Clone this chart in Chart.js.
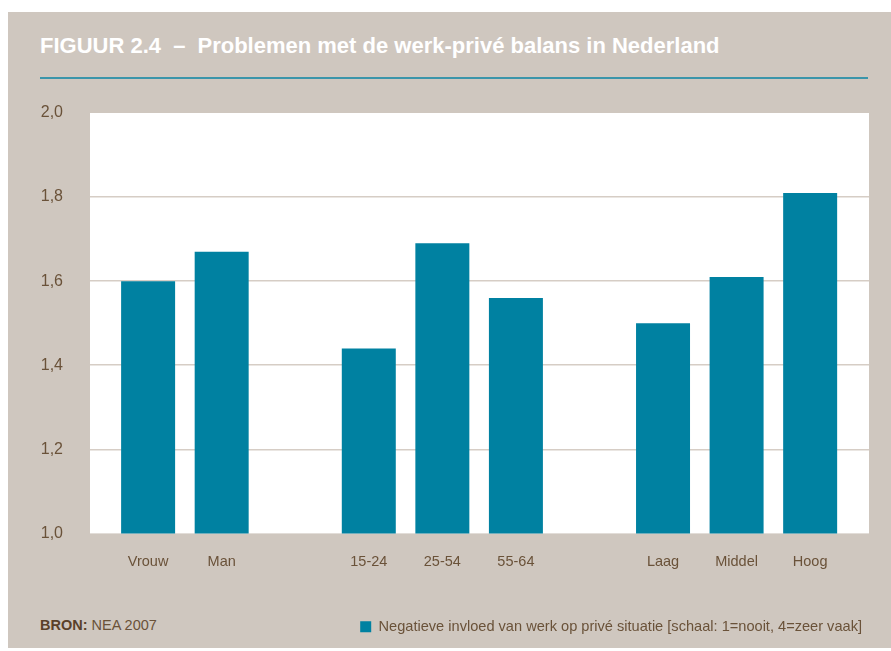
<!DOCTYPE html>
<html>
<head>
<meta charset="utf-8">
<script src="https://cdn.jsdelivr.net/npm/chart.js@4.4.1/dist/chart.umd.min.js"></script>
<style>
  body { margin: 0; background: #fff; font-family: "Liberation Sans", Arial, sans-serif; }
  #frame { position: absolute; left: 8px; top: 12px; width: 883px; height: 636px; background: #cfc7bf; }
  #title { position: absolute; left: 40px; top: 33px; color: #fff; font-weight: bold; font-size: 22px; white-space: pre; }
  #title .dash { margin: 0 6px 0 6px; }
  #rule { position: absolute; left: 40px; top: 77px; width: 828px; height: 2px; background: #3b95aa; }
  #source { position: absolute; left: 40px; top: 617px; color: #6a5239; font-size: 14.5px; }
  #source b { color: #5a4129; }
  #wrap { position: absolute; left: 0; top: 0; width: 891px; height: 651px; }
</style>
</head>
<body>
<div id="frame"></div>
<div id="title">FIGUUR 2.4<span class="dash"> – </span>Problemen met de werk-privé balans in Nederland</div>
<div id="rule"></div>
<div id="source"><b>BRON:</b> NEA 2007</div>
<div id="wrap"><canvas id="chart" width="891" height="651"></canvas></div>
<script>
// category slots, '' marks a gap between groups
const categories = ["Vrouw", "Man", "", "15-24", "25-54", "55-64", "", "Laag", "Middel", "Hoog"];
const slots = [0, 1, 3, 4, 5, 7, 8, 9];
const values = [1.60, 1.67, 1.44, 1.69, 1.56, 1.50, 1.61, 1.81];
const yTicks = [1.0, 1.2, 1.4, 1.6, 1.8, 2.0];
const seriesLabel = "Negatieve invloed van werk op privé situatie [schaal: 1=nooit, 4=zeer vaak]";

const textColor = "#6a5239";
const teal = "#0081a1";

const plotBg = {
  id: "plotBg",
  beforeDraw(chart) {
    const { ctx, chartArea } = chart;
    ctx.save();
    ctx.fillStyle = "#ffffff";
    ctx.fillRect(chartArea.left, chartArea.top, chartArea.width, chartArea.height);
    ctx.restore();
  },
};

new Chart(document.getElementById("chart").getContext("2d"), {
  type: "bar",
  data: {
    datasets: [
      {
        label: seriesLabel,
        data: slots.map((s, i) => ({ x: s, y: values[i] })),
        backgroundColor: teal,
        borderWidth: 0,
        barPercentage: 0.734,
        categoryPercentage: 1,
      },
    ],
  },
  options: {
    responsive: false,
    animation: false,
    layout: { padding: { top: 113, right: 22, left: 0, bottom: 7 } },
    plugins: {
      tooltip: { enabled: false },
      legend: {
        position: "bottom",
        align: "end",
        labels: {
          boxWidth: 11,
          boxHeight: 11,
          color: textColor,
          font: { family: "Liberation Sans", size: 14.6 },
          padding: 7,
        },
      },
    },
    scales: {
      x: {
        type: "linear",
        offset: false,
        min: -0.79,
        max: 9.8,
        grid: { display: false },
        border: { display: false },
        afterBuildTicks: (axis) => {
          axis.ticks = slots.map((s) => ({ value: s }));
        },
        ticks: {
          autoSkip: false,
          maxRotation: 0,
          padding: 12,
          color: textColor,
          font: { family: "Liberation Sans", size: 14.5 },
          callback: (v) => categories[v],
        },
        afterFit: (axis) => { axis.height = 79; },
      },
      y: {
        min: 1,
        max: 2,
        border: { display: false },
        afterBuildTicks: (axis) => {
          axis.ticks = yTicks.map((v) => ({ value: v }));
        },
        grid: {
          drawTicks: false,
          lineWidth: 1.5,
          color: (c) => (c.tick && (c.tick.value === 1 || c.tick.value === 2) ? "rgba(0,0,0,0)" : "#d6cdc5"),
        },
        ticks: {
          padding: 27,
          color: textColor,
          font: { family: "Liberation Sans", size: 16 },
          callback: (v) => v.toFixed(1).replace(".", ","),
        },
        afterFit: (axis) => { axis.width = 90; },
      },
    },
  },
  plugins: [plotBg],
});
</script>
</body>
</html>
